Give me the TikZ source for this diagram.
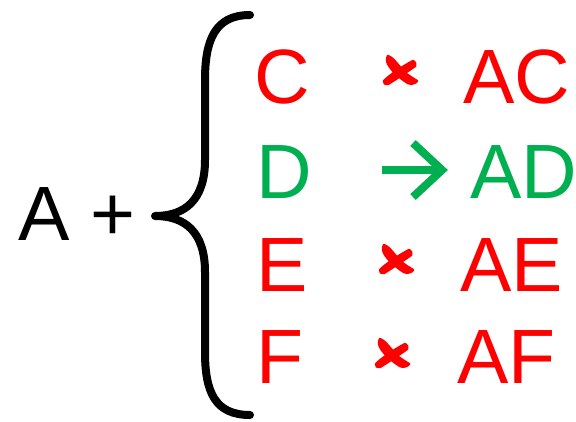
\documentclass[tikz,border=0pt]{standalone}
\usepackage{fontspec}
\setmainfont{Liberation Sans}
\definecolor{myred}{RGB}{255,0,0}
\definecolor{mygreen}{RGB}{0,176,80}
\begin{document}
\begin{tikzpicture}[x=1pt,y=-1pt,
  txt/.style={anchor=base west,inner sep=0pt,font=\fontsize{77}{77}\selectfont},
  bracepath/.style={line width=8pt,line cap=round,line join=round},
  xmark/.pic={
    \filldraw[myred,line width=2.5pt,line join=round] (-12,-15) .. controls (-8,-14) and (-2,-6) .. (3,0)
      .. controls (8,5) and (14,8) .. (17,10) .. controls (15,13) and (10,13) .. (8,12)
      .. controls (3,9) and (-6,2) .. (-10,-4) .. controls (-13,-8) and (-14,-12) .. cycle;
    \filldraw[myred,line width=2.5pt,line join=round] (13,-10) .. controls (15,-9) and (16,-7) .. (15,-5)
      .. controls (8,0) and (-4,8) .. (-12,13) .. controls (-14,14) and (-17,12) .. (-16,10)
      .. controls (-10,4) and (2,-4) .. cycle;
  }]
\useasboundingbox (0,0) rectangle (576,421);
\node[txt] (lhs) at (18,240) {A +};
\draw[bracepath] (250,15) .. controls (215,15) and (205,40) .. (205,80) -- (205,160)
  .. controls (205,200) and (185,216) .. (155,216)
  .. controls (185,216) and (205,232) .. (205,272) -- (205,352)
  .. controls (205,392) and (215,415) .. (250,415);
% row C
\node[txt,text=myred] (c) at (254,103) {C};
\pic at (400,71) {xmark};
\node[txt,text=myred] (ac) at (463,103) {AC};
% row D
\node[txt,text=mygreen] (d) at (256,198) {D};
\coordinate (ds) at (382,170);
\coordinate (de) at (441,170);
\draw[mygreen,line width=8pt] (ds) -- (de);
\draw[mygreen,line width=8pt,line join=miter] (413,143) -- (442,170) -- (413,197);
\node[txt,text=mygreen] (ad) at (470,198) {AD};
% row E
\node[txt,text=myred] (e) at (256,291) {E};
\pic at (396,260) {xmark};
\node[txt,text=myred] (ae) at (460,291) {AE};
% row F
\node[txt,text=myred] (f) at (256,383) {F};
\pic at (392,354) {xmark};
\node[txt,text=myred] (af) at (457,383) {AF};
\end{tikzpicture}
\end{document}
